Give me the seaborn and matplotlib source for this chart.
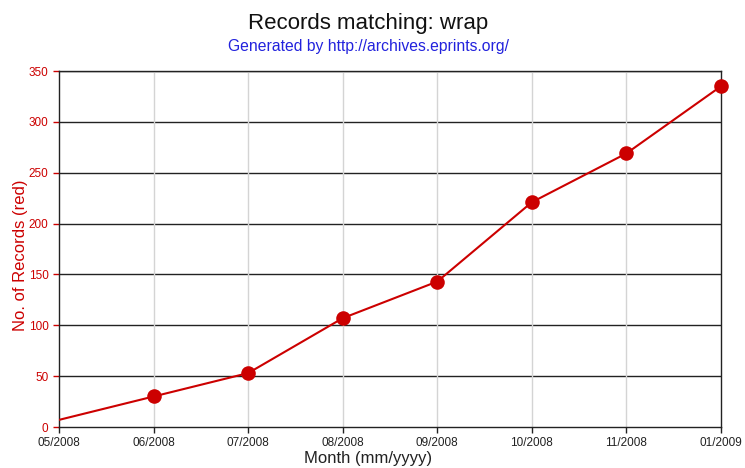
import matplotlib
matplotlib.use("Agg")
import matplotlib.pyplot as plt
import seaborn as sns
import pandas as pd

months = ["05/2008", "06/2008", "07/2008", "08/2008", "09/2008", "10/2008", "11/2008", "01/2009"]
records = [7, 30, 53, 107, 143, 221, 269, 335]
marked = [False, True, True, True, True, True, True, True]

df = pd.DataFrame({"pos": range(len(months)), "records": records, "marked": marked})

sns.set_style("white")
plt.rcParams['font.family'] = ['Liberation Sans', 'DejaVu Sans']

fig = plt.figure(figsize=(7.45, 4.68), dpi=100)
ax = fig.add_axes([59/745, 1-427/468, (721-59)/745, (427-71)/468])

red = "#cc0000"
sns.lineplot(data=df, x="pos", y="records", ax=ax, color=red, linewidth=1.5, zorder=3)
sns.scatterplot(data=df[df["marked"]], x="pos", y="records", ax=ax, color=red, s=110,
                edgecolor=red, linewidth=0, zorder=4, clip_on=False)

ax.set_xlim(0, len(months) - 1)
ax.set_ylim(0, 350)
ax.set_xticks(range(len(months)))
ax.set_xticklabels(months, fontsize=8.5, color="#222222")
ax.set_yticks(range(0, 351, 50))
ax.tick_params(axis="y", colors=red, labelsize=8.5, length=4, width=1, direction="out", left=True)
ax.tick_params(axis="x", labelsize=8.5, length=4, width=1, direction="out", bottom=True, colors="#222222")
for lab in ax.get_xticklabels():
    lab.set_color("#222222")

for y in range(50, 351, 50):
    ax.axhline(y, color="#222222", linewidth=1, zorder=1)
for x in range(1, len(months) - 1):
    ax.axvline(x, color="#d4d4d4", linewidth=1, zorder=1)

for s in ax.spines.values():
    s.set_color("#222222")
    s.set_linewidth(1)

ax.set_xlabel("Month (mm/yyyy)", fontsize=12, color="#222222")
ax.xaxis.set_label_coords((368 - 59) / 662, -24 / 356)
ax.set_ylabel("No. of Records (red)", fontsize=12, color=red)
ax.yaxis.set_label_coords(-31 / 662, 0.483)

fig.text(368/745, 1-23/468, "Records matching: wrap", ha="center", va="center", fontsize=16, color="#111111")
fig.text(368/745, 1-47/468, "Generated by http://archives.eprints.org/", ha="center", va="center", fontsize=11.3, color="#2222dd")

fig.savefig("out.png", dpi=100)
